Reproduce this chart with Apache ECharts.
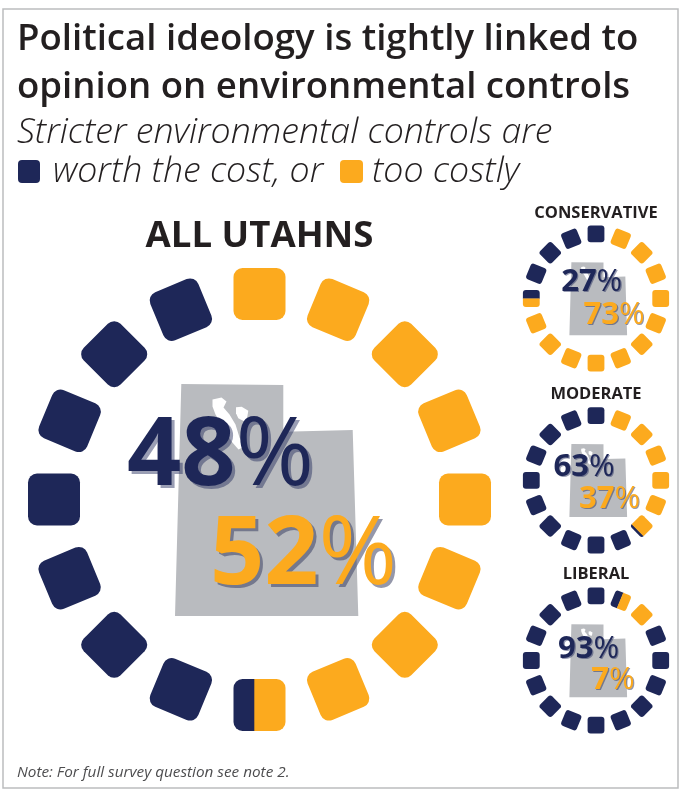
<!DOCTYPE html>
<html>
<head>
<meta charset="utf-8">
<style>html,body{margin:0;padding:0;background:#fff}#main{width:683px;height:792px}</style>
<script src="https://cdn.jsdelivr.net/npm/echarts@6/dist/echarts.min.js"></script>
</head>
<body>
<div id="main"></div>
<script>
var groups = ['ALL UTAHNS', 'CONSERVATIVE', 'MODERATE', 'LIBERAL'];
var worthCost = [48, 27, 63, 93];
var tooCostly = [52, 73, 37, 7];
// amber stretch of each ring, counted in tiles clockwise from the top tile
var amberFrom = [-0.5, 0.5, 0.5, 0.95];
var amberTo = [8.1, 12, 6.35, 2.5];
var tileCount = 16;

var navy = '#1e2758', amber = '#fcaa1e', grey = '#b9bbbf', ink = '#231f20';

// ring layout
var centers = [[259.5, 499.5], [596, 298.5], [596, 480.3], [596, 660.5]];
var radii = [205.5, 64.7, 64.7, 64.7];
var tileSizes = [52, 16.8, 16.8, 16.8];
var corners = [9, 3, 3, 3];
var headingTops = [218, 205, 386, 566];
var headingSizes = [36.6, 16.5, 16.5, 16.5];
// label centres [worth, costly]
var worthPos = [[220.5, 457.5], [591.7, 282], [584, 467], [588.5, 649]];
var costlyPos = [[303.5, 556.5], [614, 315], [609.5, 499], [613, 680]];

function tilePiece(s, c, from, to, color) {
    return {
        type: 'rect',
        shape: {
            x: -s / 2 + from * s,
            y: -s / 2,
            width: (to - from) * s,
            height: s,
            r: [from === 0 ? c : 0, to === 1 ? c : 0, to === 1 ? c : 0, from === 0 ? c : 0]
        },
        style: {fill: color}
    };
}

function makeRender(ring) {
    return function (params, api) {
        var i = api.value(1);
        var p = api.coord([api.value(0), i]);
        var s = tileSizes[ring], c = corners[ring];
        var a = Math.min(1, Math.max(0, amberFrom[ring] - (i - 0.5)));
        var b = Math.min(1, Math.max(0, amberTo[ring] - (i - 0.5)));
        var kids = [];
        if (b <= a) {
            kids.push(tilePiece(s, c, 0, 1, navy));
        } else {
            if (a > 0) kids.push(tilePiece(s, c, 0, Math.min(1, a + 0.02), navy));
            if (b < 1) kids.push(tilePiece(s, c, Math.max(0, b - 0.02), 1, navy));
            kids.push(tilePiece(s, c, a, b, amber));
        }
        return {
            type: 'group',
            x: p[0],
            y: p[1],
            rotation: -i / tileCount * Math.PI * 2,
            children: kids
        };
    };
}

function utah(ring) {
    var k = radii[ring] / radii[0];
    return {
        type: 'group',
        x: centers[ring][0],
        y: centers[ring][1],
        scaleX: k,
        scaleY: k,
        silent: true,
        z: 1,
        children: [
            {type: 'polygon', shape: {points: [[-78.2, -115.5], [23.8, -114.5], [23.8, -67.8], [93.2, -69.5], [98.8, 116.5], [-84.5, 116.5]]}, style: {fill: grey}},
            {type: 'polygon', shape: {points: [[-47, -100], [-38, -102], [-33, -98], [-36, -92], [-30, -85], [-24, -75], [-20, -62], [-15, -53], [-21, -50], [-28, -58], [-36, -72], [-44, -85], [-47, -93]]}, style: {fill: '#fff'}},
            {type: 'polygon', shape: {points: [[-23.5, -92.2], [-17.8, -92.8], [-11.2, -88.8], [-12.2, -82.8], [-14.5, -77.8], [-21.2, -81.2], [-23.5, -86.2]]}, style: {fill: '#fff'}}
        ]
    };
}

function pctLabel(ring, value, pos, color, shadow) {
    var big = ring === 0;
    var size = big ? 95 : 31;
    var off = big ? 3 : 1.2;
    var base = {fill: color, fontFamily: 'Open Sans', fontSize: size, textShadowColor: shadow, textShadowOffsetX: off, textShadowOffsetY: off, textShadowBlur: 0.5};
    return {
        type: 'text',
        x: pos[0],
        y: pos[1],
        silent: true,
        z: 20,
        style: {
            text: '{d|' + value + '}{p|%}',
            align: 'center',
            verticalAlign: 'middle',
            rich: {
                d: Object.assign({fontWeight: 700}, base),
                p: Object.assign({fontWeight: 400}, base)
            }
        }
    };
}

var polar = [], angleAxis = [], radiusAxis = [], series = [], title = [], graphic = [];

graphic.push({type: 'rect', shape: {x: 3, y: 9, width: 675, height: 779}, style: {fill: '#fff', stroke: '#bcbdbf', lineWidth: 1.5}, silent: true, z: 0});
graphic.push({type: 'rect', shape: {x: 18, y: 160, width: 22, height: 23, r: 4}, style: {fill: navy}, silent: true, z: 5});
graphic.push({type: 'rect', shape: {x: 340, y: 160, width: 23, height: 23, r: 4}, style: {fill: amber}, silent: true, z: 5});

groups.forEach(function (name, ring) {
    var tiles = [];
    for (var i = 0; i < tileCount; i++) tiles.push([1, i]);
    polar.push({center: centers[ring], radius: radii[ring]});
    angleAxis.push({polarIndex: ring, type: 'value', min: 0, max: tileCount, startAngle: 90, show: false});
    radiusAxis.push({polarIndex: ring, type: 'value', min: 0, max: 1, show: false});
    series.push({
        type: 'custom',
        coordinateSystem: 'polar',
        polarIndex: ring,
        silent: true,
        z: 5,
        encode: {radius: 0, angle: 1},
        renderItem: makeRender(ring),
        data: tiles
    });
    title.push({
        text: name,
        left: centers[ring][0],
        top: headingTops[ring],
        textAlign: 'center',
        padding: 0,
        textStyle: {color: ink, fontFamily: 'Open Sans', fontWeight: 700, fontSize: headingSizes[ring]}
    });
    graphic.push(utah(ring));
    graphic.push(pctLabel(ring, worthCost[ring], worthPos[ring], navy, 'rgba(30,39,88,0.45)'));
    graphic.push(pctLabel(ring, tooCostly[ring], costlyPos[ring], amber, 'rgba(60,65,100,0.55)'));
});

function headText(text, top, size, weight, style, left, color) {
    return {
        text: text,
        left: left,
        top: top,
        padding: 0,
        textStyle: {color: color, fontFamily: 'Open Sans', fontWeight: weight, fontStyle: style, fontSize: size}
    };
}
title.push(headText('Political ideology is tightly linked to', 21, 36.6, 600, 'normal', 17, ink));
title.push(headText('opinion on environmental controls', 69, 36.6, 600, 'normal', 17, ink));
title.push(headText('Stricter environmental controls are', 115, 35.7, 300, 'italic', 17, ink));
title.push(headText('worth the cost, or', 154, 35.7, 300, 'italic', 53, ink));
title.push(headText('too costly', 154, 35.7, 300, 'italic', 372, ink));
title.push(headText('Note: For full survey question see note 2.', 765, 15.3, 400, 'italic', 17, '#4d4d4f'));

var myChart = echarts.init(document.getElementById('main'), null, {renderer: 'canvas'});
myChart.setOption({
    animation: false,
    backgroundColor: '#fff',
    title: title,
    polar: polar,
    angleAxis: angleAxis,
    radiusAxis: radiusAxis,
    graphic: graphic,
    series: series
});
</script>
</body>
</html>
